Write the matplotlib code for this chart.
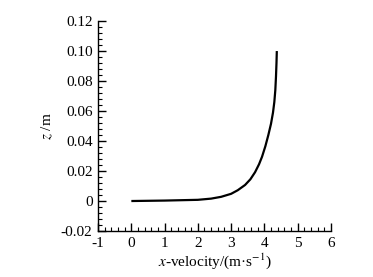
import matplotlib
matplotlib.use("Agg")
import matplotlib.pyplot as plt
from matplotlib.ticker import MultipleLocator, FixedLocator

plt.rcParams['font.family'] = ['Liberation Serif', 'DejaVu Serif']
plt.rcParams['mathtext.fontset'] = 'stix'
plt.rcParams['axes.unicode_minus'] = False

velocity = [0.0, 1.0, 2.0, 2.4, 2.7, 3.0, 3.2, 3.42, 3.58, 3.72, 3.84, 3.93, 4.03, 4.12,
            4.2, 4.26, 4.30, 4.33, 4.35, 4.365, 4.375]
height = [0.0, 0.0003, 0.0008, 0.0016, 0.0028, 0.0048, 0.0072, 0.0107, 0.0145, 0.0192,
          0.0245, 0.0295, 0.0365, 0.044, 0.0515, 0.059, 0.066, 0.074, 0.083, 0.092, 0.1]

x_ticks = [-1, 0, 1, 2, 3, 4, 5, 6]
y_ticks = [-0.02, 0, 0.02, 0.04, 0.06, 0.08, 0.10, 0.12]
y_tick_labels = ['-0.02', '0', '0.02', '0.04', '0.06', '0.08', '0.10', '0.12']

fig = plt.figure(figsize=(3.73, 2.77), dpi=100)
ax = fig.add_axes([0.263, 0.166, 0.624, 0.758])
ax.plot(velocity, height, color='black', lw=1.6, solid_capstyle='butt',
        solid_joinstyle='round')

ax.set_xlim(-1, 6)
ax.set_ylim(-0.02, 0.12)
ax.xaxis.set_major_locator(FixedLocator(x_ticks))
ax.yaxis.set_major_locator(FixedLocator(y_ticks))
ax.set_yticklabels(y_tick_labels)
ax.xaxis.set_minor_locator(MultipleLocator(0.2))
ax.yaxis.set_minor_locator(MultipleLocator(0.004))

for s in ['top', 'right']:
    ax.spines[s].set_visible(False)
for s in ['left', 'bottom']:
    ax.spines[s].set_linewidth(1.0)

ax.tick_params(which='major', direction='in', length=6, width=1.0, labelsize=11, colors='black', pad=4)
ax.tick_params(which='minor', direction='in', length=3, width=0.8)

ax.set_xlabel('$\\it{x}$-velocity/(m·s$^{-1}$)', fontsize=11, labelpad=1)
ax.set_ylabel('$\\it{z}$ /m', fontsize=11, labelpad=4)

fig.savefig('out.png', dpi=100)
